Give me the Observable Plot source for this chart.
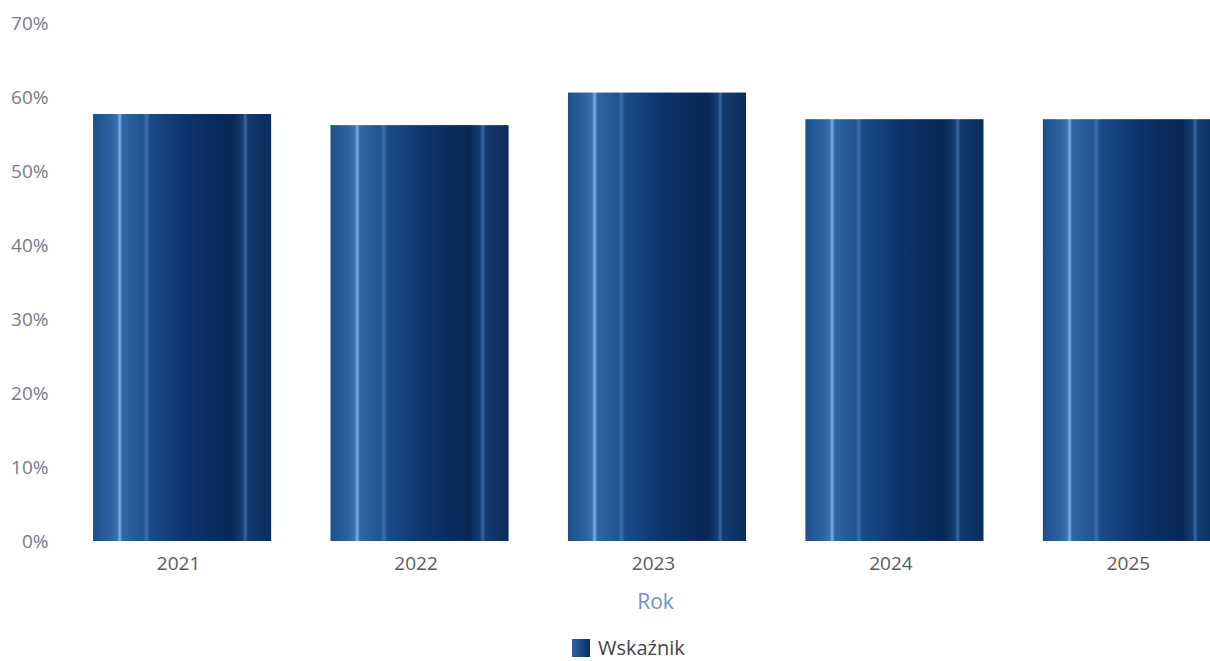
<!DOCTYPE html>
<html>
<head>
<meta charset="utf-8">
<script src="https://cdn.jsdelivr.net/npm/d3@7"></script>
<script src="https://cdn.jsdelivr.net/npm/@observablehq/plot@0.6"></script>
<style>
  html, body { margin: 0; padding: 0; background: #fff; overflow: hidden; width: 1210px; height: 661px; }
  #chart { width: 1210px; height: 620px; overflow: hidden; }
  #chart svg { display: block; font-family: "Open Sans", sans-serif; max-width: none !important; width: 1258px !important; height: 620px !important; }
  #legend { font-family: "Open Sans", sans-serif; font-size: 20px; line-height: 22px; color: #444; display: flex; align-items: center; margin-left: 572px; margin-top: 17px; }
  #legend .sw { width: 18px; height: 18px; background: linear-gradient(90deg, #2e64a4, #0a2d62); margin-right: 8px; }
</style>
</head>
<body>
<div id="chart"></div>
<div id="legend"><span class="sw"></span><span>Wskaźnik</span></div>
<script>
const years = ["2021", "2022", "2023", "2024", "2025"];
const values = [0.577, 0.562, 0.606, 0.570, 0.570];
const yTicks = [0, 0.1, 0.2, 0.3, 0.4, 0.5, 0.6, 0.7];
const xLabel = "Rok";
const seriesName = "Wskaźnik";

const data = years.map((y, i) => ({year: y, value: values[i]}));

const chart = Plot.plot({
  width: 1258,
  height: 620,
  marginTop: 23,
  marginBottom: 79,
  marginLeft: 56,
  marginRight: 0,
  style: {fontFamily: "Open Sans, sans-serif", fontSize: "19px", color: "#5f6670", background: "#fff"},
  x: {domain: years, paddingInner: 0.25, paddingOuter: 0.156, round: false, label: null},
  y: {domain: [0, 0.7], label: null},
  marks: [
    Plot.barY(data, {x: "year", y: "value", fill: "url(#barGrad)"}),
    Plot.axisY({ticks: yTicks, tickFormat: d => Math.round(d * 100) + "%", tickSize: 0, tickPadding: 8, fontSize: 19, label: null, fill: "#767c84"}),
    Plot.axisX({tickSize: 0, tickPadding: 15, fontSize: 19, dx: -4, label: null, fill: "#555b63"}),
    Plot.text([xLabel], {frameAnchor: "bottom", dy: 61, dx: -2, fontSize: 21, fill: "#6f8fd6", lineAnchor: "middle"})
  ]
});

const ns = "http://www.w3.org/2000/svg";
const defs = document.createElementNS(ns, "defs");
const grad = document.createElementNS(ns, "linearGradient");
grad.setAttribute("id", "barGrad");
grad.setAttribute("x1", "0"); grad.setAttribute("x2", "1");
grad.setAttribute("y1", "0"); grad.setAttribute("y2", "0");
const stops = [
  [0, "#1c4f8c"], [0.10, "#2c62a2"], [0.135, "#3a70b0"], [0.15, "#7ab0e6"], [0.165, "#2f66a6"],
  [0.28, "#1f548f"], [0.30, "#3d70ab"], [0.32, "#1b4c88"],
  [0.5, "#0f3670"], [0.65, "#0a2c60"], [0.78, "#082856"],
  [0.84, "#143c72"], [0.855, "#3a68a0"], [0.87, "#133a6f"], [1, "#0b2c5c"]
];
for (const [o, c] of stops) {
  const s = document.createElementNS(ns, "stop");
  s.setAttribute("offset", o);
  s.setAttribute("stop-color", c);
  grad.appendChild(s);
}
defs.appendChild(grad);
chart.insertBefore(defs, chart.firstChild);

document.getElementById("chart").appendChild(chart);
</script>
</body>
</html>
